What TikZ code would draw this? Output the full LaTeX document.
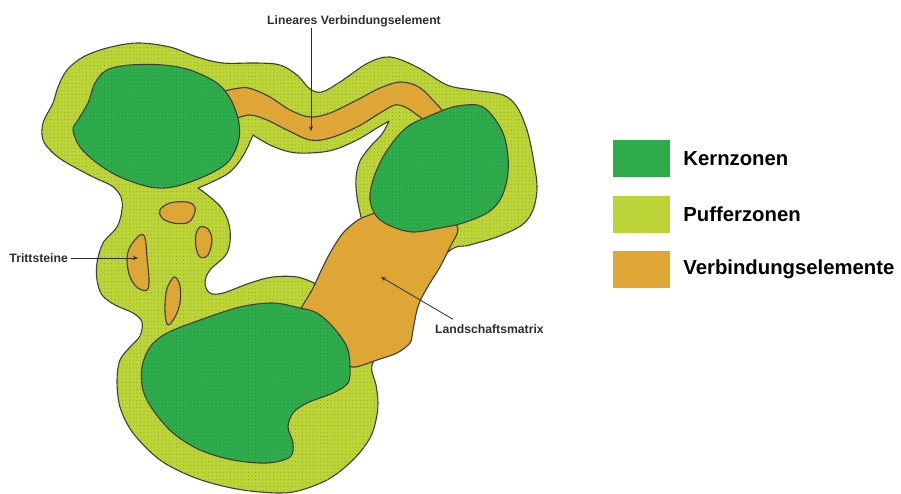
\documentclass[tikz,border=0pt]{standalone}
\usepackage{fontspec}
\setmainfont{Liberation Sans}
\usetikzlibrary{arrows.meta,patterns.meta,positioning}
\definecolor{kern}{RGB}{46,172,76}
\definecolor{puffer}{RGB}{188,212,55}
\definecolor{verb}{RGB}{222,166,52}
\definecolor{outl}{RGB}{62,62,56}
\definecolor{pufferdot}{RGB}{138,165,35}
\definecolor{kerndot}{RGB}{28,135,58}
\definecolor{labelgray}{RGB}{45,45,45}
\tikzset{
  edge/.style={draw=outl, line width=1.1pt, line join=round},
  bufferzone/.style={edge, fill=puffer, postaction={pattern={Dots[distance=3.6pt,radius=0.5pt]}, pattern color=pufferdot}},
  corezone/.style={edge, fill=kern, postaction={pattern={Dots[distance=3.6pt,radius=0.45pt]}, pattern color=kerndot}},
  linkzone/.style={edge, fill=verb},
  holezone/.style={edge, fill=white},
  lbl/.style={font=\bfseries\fontsize{12.2}{14}\selectfont, text=labelgray, inner sep=1pt},
  arr/.style={draw=labelgray, line width=0.8pt, -{Stealth[length=5pt,width=4pt]}},
  legbox/.style={minimum width=57pt, minimum height=37pt, inner sep=0pt, draw=none},
  legtxt/.style={font=\bfseries\fontsize{20.3}{24}\selectfont, text=black, inner sep=0pt, anchor=west}
}
\begin{document}
\begin{tikzpicture}[x=1pt,y=-1pt]
\useasboundingbox (0,0) rectangle (901,494);

% buffer zone (outer)
\path[bufferzone] plot[smooth cycle, tension=0.55] coordinates {
 (137,43) (170,47) (197,57) (223,63) (257,63) (280,65) (297,75) (310,89) (322,92)
 (340,82) (368,63) (390,57) (417,67) (447,85) (473,90) (503,95) (517,107) (527,130)
 (533,157) (537,187) (533,210) (522,225) (497,237) (470,245) (448,252) (405,300)
 (388,340) (372,365) (376,385) (378,403) (376,420) (370,438) (353,460) (327,480)
 (293,492) (260,492) (227,487) (193,477) (160,460) (133,433) (120,407) (117,380)
 (120,360) (130,347) (140,336) (142,322) (133,313) (115,305) (102,295) (97,280)
 (97,263) (103,243) (117,227) (122,210) (121,197) (112,186) (93,177) (67,163)
 (53,153) (43,140) (43,123) (53,103) (58,87) (67,70) (83,57) (107,48)};

% central hole
\path[holezone] (198,188)
 -- plot[smooth, tension=0.6] coordinates {(198,188) (212,182) (230,172) (243,156) (253,135)}
 -- plot[smooth, tension=0.6] coordinates {(253,135) (270,145) (290,152) (310,153) (333,150) (357,140) (377,128) (389,121)}
 -- plot[smooth, tension=0.6] coordinates {(389,121) (382,134) (370,147) (360,161) (356,178) (357,197) (361,217)}
 -- (372,222) -- (322,290) -- (314,283)
 -- plot[smooth, tension=0.6] coordinates {(314,283) (297,277) (273,277) (250,283) (223,293) (210,293) (205,283) (210,270) (227,253) (230,230) (223,210) (210,197) (198,188)}
 -- cycle;

% linear connecting element
\path[linkzone] plot[smooth cycle, tension=0.55] coordinates {
 (218,95) (240,88) (252,89) (270,97) (290,110) (310,117) (330,113) (357,100) (380,88)
 (400,82) (417,86) (430,97) (445,116) (430,123) (420,117) (407,108) (395,105)
 (380,113) (357,127) (330,138) (310,140) (287,130) (267,120) (250,115) (228,118)};

% landscape matrix corridor
\path[linkzone] plot[smooth cycle, tension=0.5] coordinates {
 (395,205) (372,214) (358,220) (343,233) (330,253) (320,273) (312,290) (303,305)
 (300,315) (320,332) (345,362) (355,367) (377,360) (397,353) (410,343) (413,330)
 (417,310) (422,297) (430,283) (440,267) (450,247) (458,229) (445,215)};

% core zones
\path[corezone] plot[smooth cycle, tension=0.55] coordinates {
 (130,65) (107,70) (95,83) (88,103) (78,120) (73,130) (80,147) (97,163) (120,177)
 (150,187) (173,187) (203,177) (227,163) (238,143) (239,123) (231,100) (217,83)
 (190,70) (163,65)};
\path[corezone] plot[smooth cycle, tension=0.55] coordinates {
 (427,117) (453,107) (477,105) (490,113) (503,133) (508,157) (507,180) (500,200)
 (487,213) (463,223) (440,228) (413,232) (393,227) (377,217) (370,200) (373,180)
 (383,157) (397,137) (410,125)};
\path[corezone] plot[smooth cycle, tension=0.55] coordinates {
 (300,308) (273,303) (240,307) (200,320) (167,333) (150,347) (142,367) (143,390)
 (153,410) (173,433) (200,450) (233,460) (267,463) (290,457) (293,443) (288,427)
 (293,413) (307,403) (333,393) (348,383) (350,367) (347,347) (333,327) (317,313)};

% stepping stones
\path[linkzone] plot[smooth cycle, tension=0.6] coordinates {
 (160,210) (170,203) (187,202) (195,207) (193,217) (187,223) (173,223) (162,218)};
\path[linkzone] plot[smooth cycle, tension=0.6] coordinates {
 (200,227) (208,229) (212,240) (208,255) (200,257) (196,247) (196,234)};
\path[linkzone] plot[smooth cycle, tension=0.6] coordinates {
 (140,235) (145,238) (147,257) (149,280) (147,290) (138,288) (130,277) (127,260) (130,247)};
\path[linkzone] plot[smooth cycle, tension=0.6] coordinates {
 (175,277) (180,286) (180,303) (175,317) (168,325) (165,313) (166,293) (170,282)};

% labels and arrows
\node[lbl] (lv) at (354,21) {Lineares Verbindungselement};
\coordinate (lvtip) at (311,131);
\draw[arr] (lv.south -| lvtip) -- (lvtip);

\node[lbl, anchor=east] (tr) at (69,258) {Trittsteine};
\coordinate (trtip) at (138,258);
\draw[arr] ([xshift=2pt]tr.east) -- (trtip);

\node[lbl, anchor=west] (lm) at (434,329) {Landschaftsmatrix};
\coordinate (lmtip) at (381,277);
\draw[arr] ([xshift=19pt,yshift=4pt]lm.north west) -- (lmtip);

% legend
\node[legbox, fill=kern] (lk) at (641.5,158.5) {};
\node[legbox, fill=puffer] (lp) at (641.5,214.5) {};
\node[legbox, fill=verb] (lvb) at (641.5,269.5) {};
\node[legtxt, right=13pt of lk] (tk) {Kernzonen};
\node[legtxt, right=13pt of lp] (tp) {Pufferzonen};
\node[legtxt, right=13pt of lvb] (tv) {Verbindungselemente};
\end{tikzpicture}
\end{document}
